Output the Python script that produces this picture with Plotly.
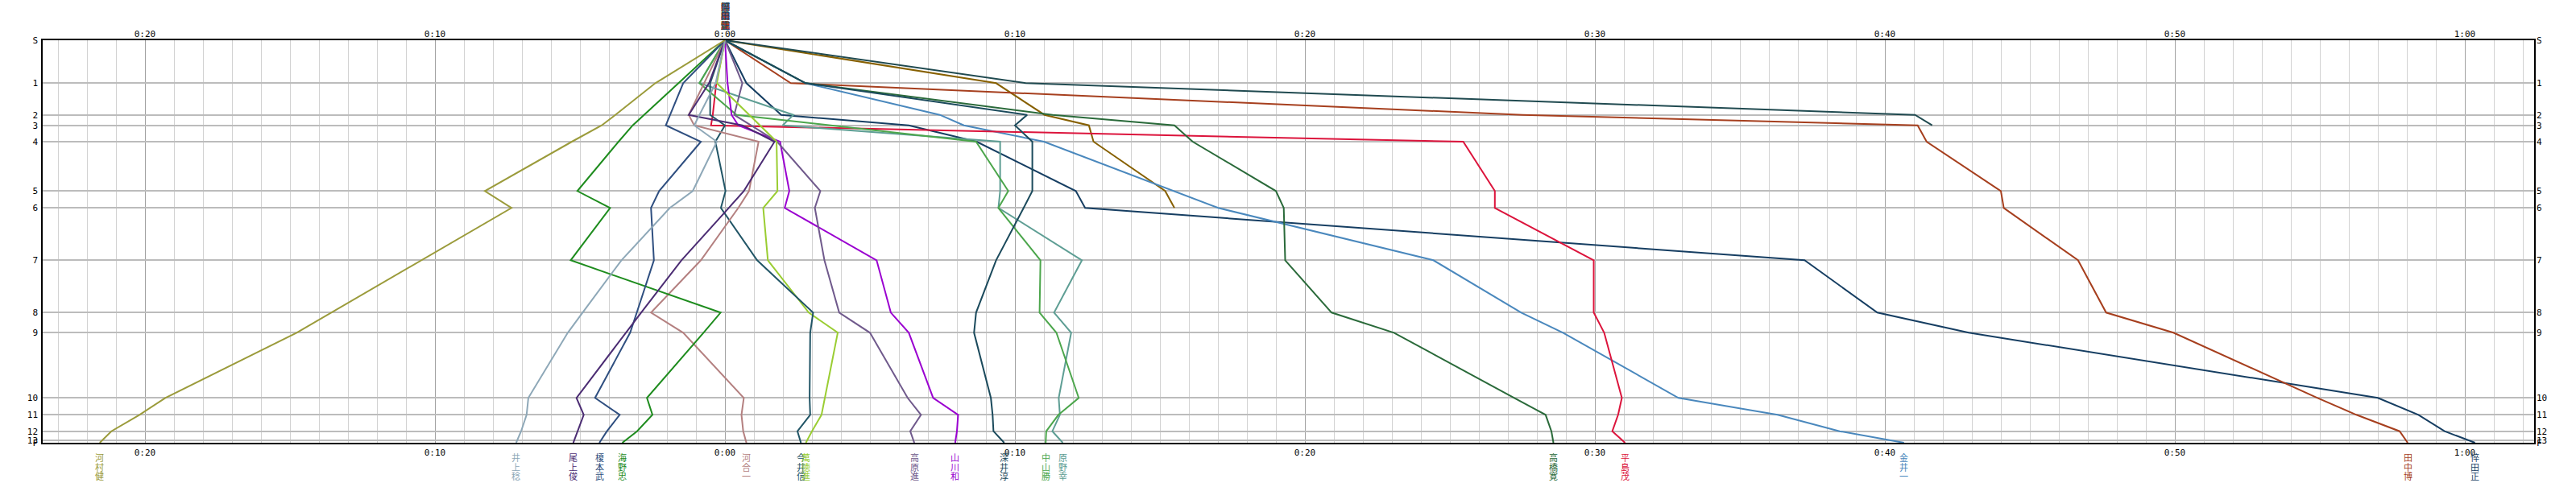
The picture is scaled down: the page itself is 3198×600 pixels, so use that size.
import plotly.graph_objects as go

# ---------------- data ----------------
STATIONS = ["S", "1", "2", "3", "4", "5", "6", "7", "8", "9", "10", "11", "12", "13", "F"]
STATION_KM = [0.0, 5.33, 9.27, 10.57, 12.60, 18.73, 20.83, 27.33, 33.83, 36.33,
              44.43, 46.53, 48.57, 49.67, 50.0]
# split points where gaps were recorded (S,1..12,F)
SPLIT_KM = [0.0, 5.33, 9.27, 10.57, 12.60, 18.73, 20.83, 27.33, 33.83, 36.33,
            44.43, 46.53, 48.57, 50.0]

X_TICKS = [-20, -10, 0, 10, 20, 30, 40, 50, 60]
X_TICK_TEXT = ["0:20", "0:10", "0:00", "0:10", "0:20", "0:30", "0:40", "0:50", "1:00"]

NAMES = ["河村健", "井上稔", "尾上俊", "榎本武", "海野忠", "河合一", "今井信", "萬徳進",
         "高原進", "山川和", "深井淳", "中山勝", "原野幸", "高橋寛", "平島茂", "金井一",
         "田中博", "悴田正", "", ""]
COLORS = ["#9b9b3b", "#8ea8b8", "#4b2c73", "#2f4f80", "#1e8c1e", "#b48080", "#215566",
          "#9acd32", "#705a8c", "#9a00d0", "#1b4a5c", "#4ca64c", "#5e9e94", "#2a6a3a",
          "#dc143c", "#4a88bd", "#a63f1e", "#163e62", "#204a50", "#876000"]

# gap in minutes at each split (negative = ahead of the reference)
GAP_KAWAMURA = [0, -2.40, -3.78, -4.25, -5.28, -8.28, -7.36, -10.47, -13.58, -14.77, -19.30, -20.19, -21.16, -21.56]
GAP_INOUE    = [0, -0.32, -0.88, -1.06, -0.28, -1.11, -1.90, -3.57, -4.91, -5.42, -6.78, -6.84, -7.03, -7.20]
GAP_ONOUE    = [0, -0.55, -1.25, 0.60, 1.71, 0.65, 0.13, -1.50, -2.89, -3.42, -5.12, -4.87, -5.08, -5.23]
GAP_ENOMOTO  = [0, -1.44, -1.89, -2.04, -0.83, -2.27, -2.55, -2.45, -3.04, -3.27, -4.48, -3.63, -4.07, -4.33]
GAP_UNNO     = [0, -1.60, -2.79, -3.18, -3.67, -5.09, -3.96, -5.32, -0.15, -0.74, -2.69, -2.50, -3.03, -3.54]
GAP_KAWAI    = [0, -0.72, -1.25, -1.06, 1.16, 0.83, 0.46, -0.83, -2.55, -1.44, 0.65, 0.57, 0.63, 0.74]
GAP_IMAI     = [0, -0.51, -0.51, 0.00, -0.33, 0.02, -0.14, 1.11, 3.04, 2.94, 2.92, 2.94, 2.50, 2.62]
GAP_MANTOKU  = [0, -0.28, 0.84, 1.21, 1.78, 1.81, 1.32, 1.48, 2.89, 3.89, 3.44, 3.33, 3.00, 2.79]
GAP_TAKAHARA = [0, 0.60, 0.32, 0.89, 1.80, 3.29, 3.10, 3.43, 3.94, 5.00, 6.30, 6.76, 6.39, 6.53]
GAP_YAMAKAWA = [0, 0.09, 0.23, 0.46, 1.90, 2.22, 2.06, 5.23, 5.72, 6.34, 7.18, 8.04, 8.00, 7.94]
GAP_FUKAI    = [0, 2.78, 10.42, 10.00, 10.60, 10.60, 10.30, 9.35, 8.66, 8.59, 9.17, 9.23, 9.26, 9.63]
GAP_NAKAYAMA = [0, -0.88, 0.40, 3.60, 8.66, 9.77, 9.43, 10.88, 10.85, 11.43, 12.20, 11.50, 11.08, 11.06]
GAP_HARANO   = [0, -0.88, 2.36, 1.99, 9.49, 9.49, 9.43, 12.31, 11.35, 11.94, 11.51, 11.55, 11.29, 11.65]
GAP_TAKAHASHI = [0, 2.78, 11.30, 15.50, 16.13, 19.00, 19.27, 19.32, 20.92, 23.07, 27.22, 28.30, 28.50, 28.57]
GAP_HIRASHIMA = [0, -0.30, -0.42, -0.48, 25.46, 26.55, 26.55, 29.96, 29.96, 30.32, 30.93, 30.80, 30.60, 31.04]
GAP_KANAI    = [0, 2.78, 7.41, 8.24, 11.00, 15.50, 17.01, 24.43, 27.46, 28.90, 32.88, 36.30, 38.44, 40.66]
GAP_TANAKA   = [0, 2.27, 27.50, 41.13, 41.44, 44.00, 44.10, 46.66, 47.63, 49.95, 54.92, 56.26, 57.75, 58.03]
GAP_KASEDA   = [0, 0.74, 1.94, 6.34, 8.68, 12.10, 12.42, 37.23, 39.74, 42.89, 57.00, 58.40, 59.30, 60.35]
GAP_DNF_A    = [0, 10.37, 41.04, 41.63]
GAP_DNF_B    = [0, 9.35, 11.02, 12.55, 12.71, 15.18, 15.50]

GAPS = [GAP_KAWAMURA, GAP_INOUE, GAP_ONOUE, GAP_ENOMOTO, GAP_UNNO, GAP_KAWAI, GAP_IMAI,
        GAP_MANTOKU, GAP_TAKAHARA, GAP_YAMAKAWA, GAP_FUKAI, GAP_NAKAYAMA, GAP_HARANO,
        GAP_TAKAHASHI, GAP_HIRASHIMA, GAP_KANAI, GAP_TANAKA, GAP_KASEDA, GAP_DNF_A, GAP_DNF_B]

# ---------------- figure ----------------
W, H = 3198, 600
ML, MR, MT, MB = 53, 52, 50, 50
PX_PER_MIN = 36.0
x_left = (ML - 900) / PX_PER_MIN
x_right = x_left + (W - ML - MR) / PX_PER_MIN

TICK_FONT = dict(family="DejaVu Sans Mono", size=11, color="#000000")
NAME_FONT = "Noto Sans CJK JP"

fig = go.Figure()

# draw DNF lines first, then finishers
order = list(range(len(NAMES) - 1, -1, -1))
for i in order:
    g = GAPS[i]
    fig.add_trace(go.Scatter(
        x=g, y=SPLIT_KM[:len(g)], mode="lines",
        line=dict(color=COLORS[i], width=2),
        name=NAMES[i] or "DNF", showlegend=False, hoverinfo="skip",
    ))

# dummy trace for secondary (top / right) axes
fig.add_trace(go.Scatter(x=[0], y=[0], xaxis="x2", yaxis="y2", mode="markers",
                         marker=dict(opacity=0), showlegend=False, hoverinfo="skip"))

annotations = []
for i, name in enumerate(NAMES):
    if not name:
        continue
    g = GAPS[i]
    for k, ch in enumerate(name):
        # finish label (vertical text below the plot)
        annotations.append(dict(
            x=g[-1], xref="x", y=0, yref="paper", text=ch, showarrow=False,
            xanchor="center", yanchor="middle", yshift=-18 - 11.6 * k,
            font=dict(family=NAME_FONT, size=11, color=COLORS[i])))
        # start label (all stacked at 0:00 above the plot)
        annotations.append(dict(
            x=g[0], xref="x", y=1, yref="paper", text=ch, showarrow=False,
            xanchor="center", yanchor="middle", yshift=42.5 - 11.6 * k,
            font=dict(family=NAME_FONT, size=11, color=COLORS[i])))

common_x = dict(
    range=[x_left, x_right], tickmode="array", tickvals=X_TICKS, ticktext=X_TICK_TEXT,
    tickfont=TICK_FONT, ticks="", zeroline=False,
)
common_y = dict(
    range=[50.0, 0.0], tickmode="array", tickvals=STATION_KM, ticktext=STATIONS,
    tickfont=dict(family="DejaVu Sans Mono", size=11, color="#000000"),
    ticks="", zeroline=False,
)

fig.update_layout(
    width=W, height=H,
    margin=dict(l=ML, r=MR, t=MT, b=MB, pad=0),
    paper_bgcolor="white", plot_bgcolor="white",
    showlegend=False,
    annotations=annotations,
    xaxis=dict(
        **common_x, side="bottom",
        showgrid=True, gridcolor="#a2a2a2", gridwidth=1,
        minor=dict(tickmode="linear", tick0=0, dtick=1, showgrid=True,
                   gridcolor="#d2d2d2", gridwidth=1, ticks=""),
        showline=True, linecolor="black", linewidth=2, mirror=True,
        ticklabelstandoff=1,
    ),
    xaxis2=dict(
        **common_x, side="top", overlaying="x", matches="x", showgrid=False,
        ticklabelstandoff=1,
    ),
    yaxis=dict(
        **common_y, side="left",
        showgrid=True, gridcolor="#bcbcbc", gridwidth=1.5,
        showline=True, linecolor="black", linewidth=1.5, mirror=True,
        ticklabelstandoff=2,
    ),
    yaxis2=dict(
        **common_y, side="right", overlaying="y", matches="y", showgrid=False,
        ticklabelstandoff=2,
    ),
)

fig.write_html(
    "out.html",
    config={"displayModeBar": False},
    post_script="document.body.style.margin='0px';document.body.style.overflow='hidden';",
)
